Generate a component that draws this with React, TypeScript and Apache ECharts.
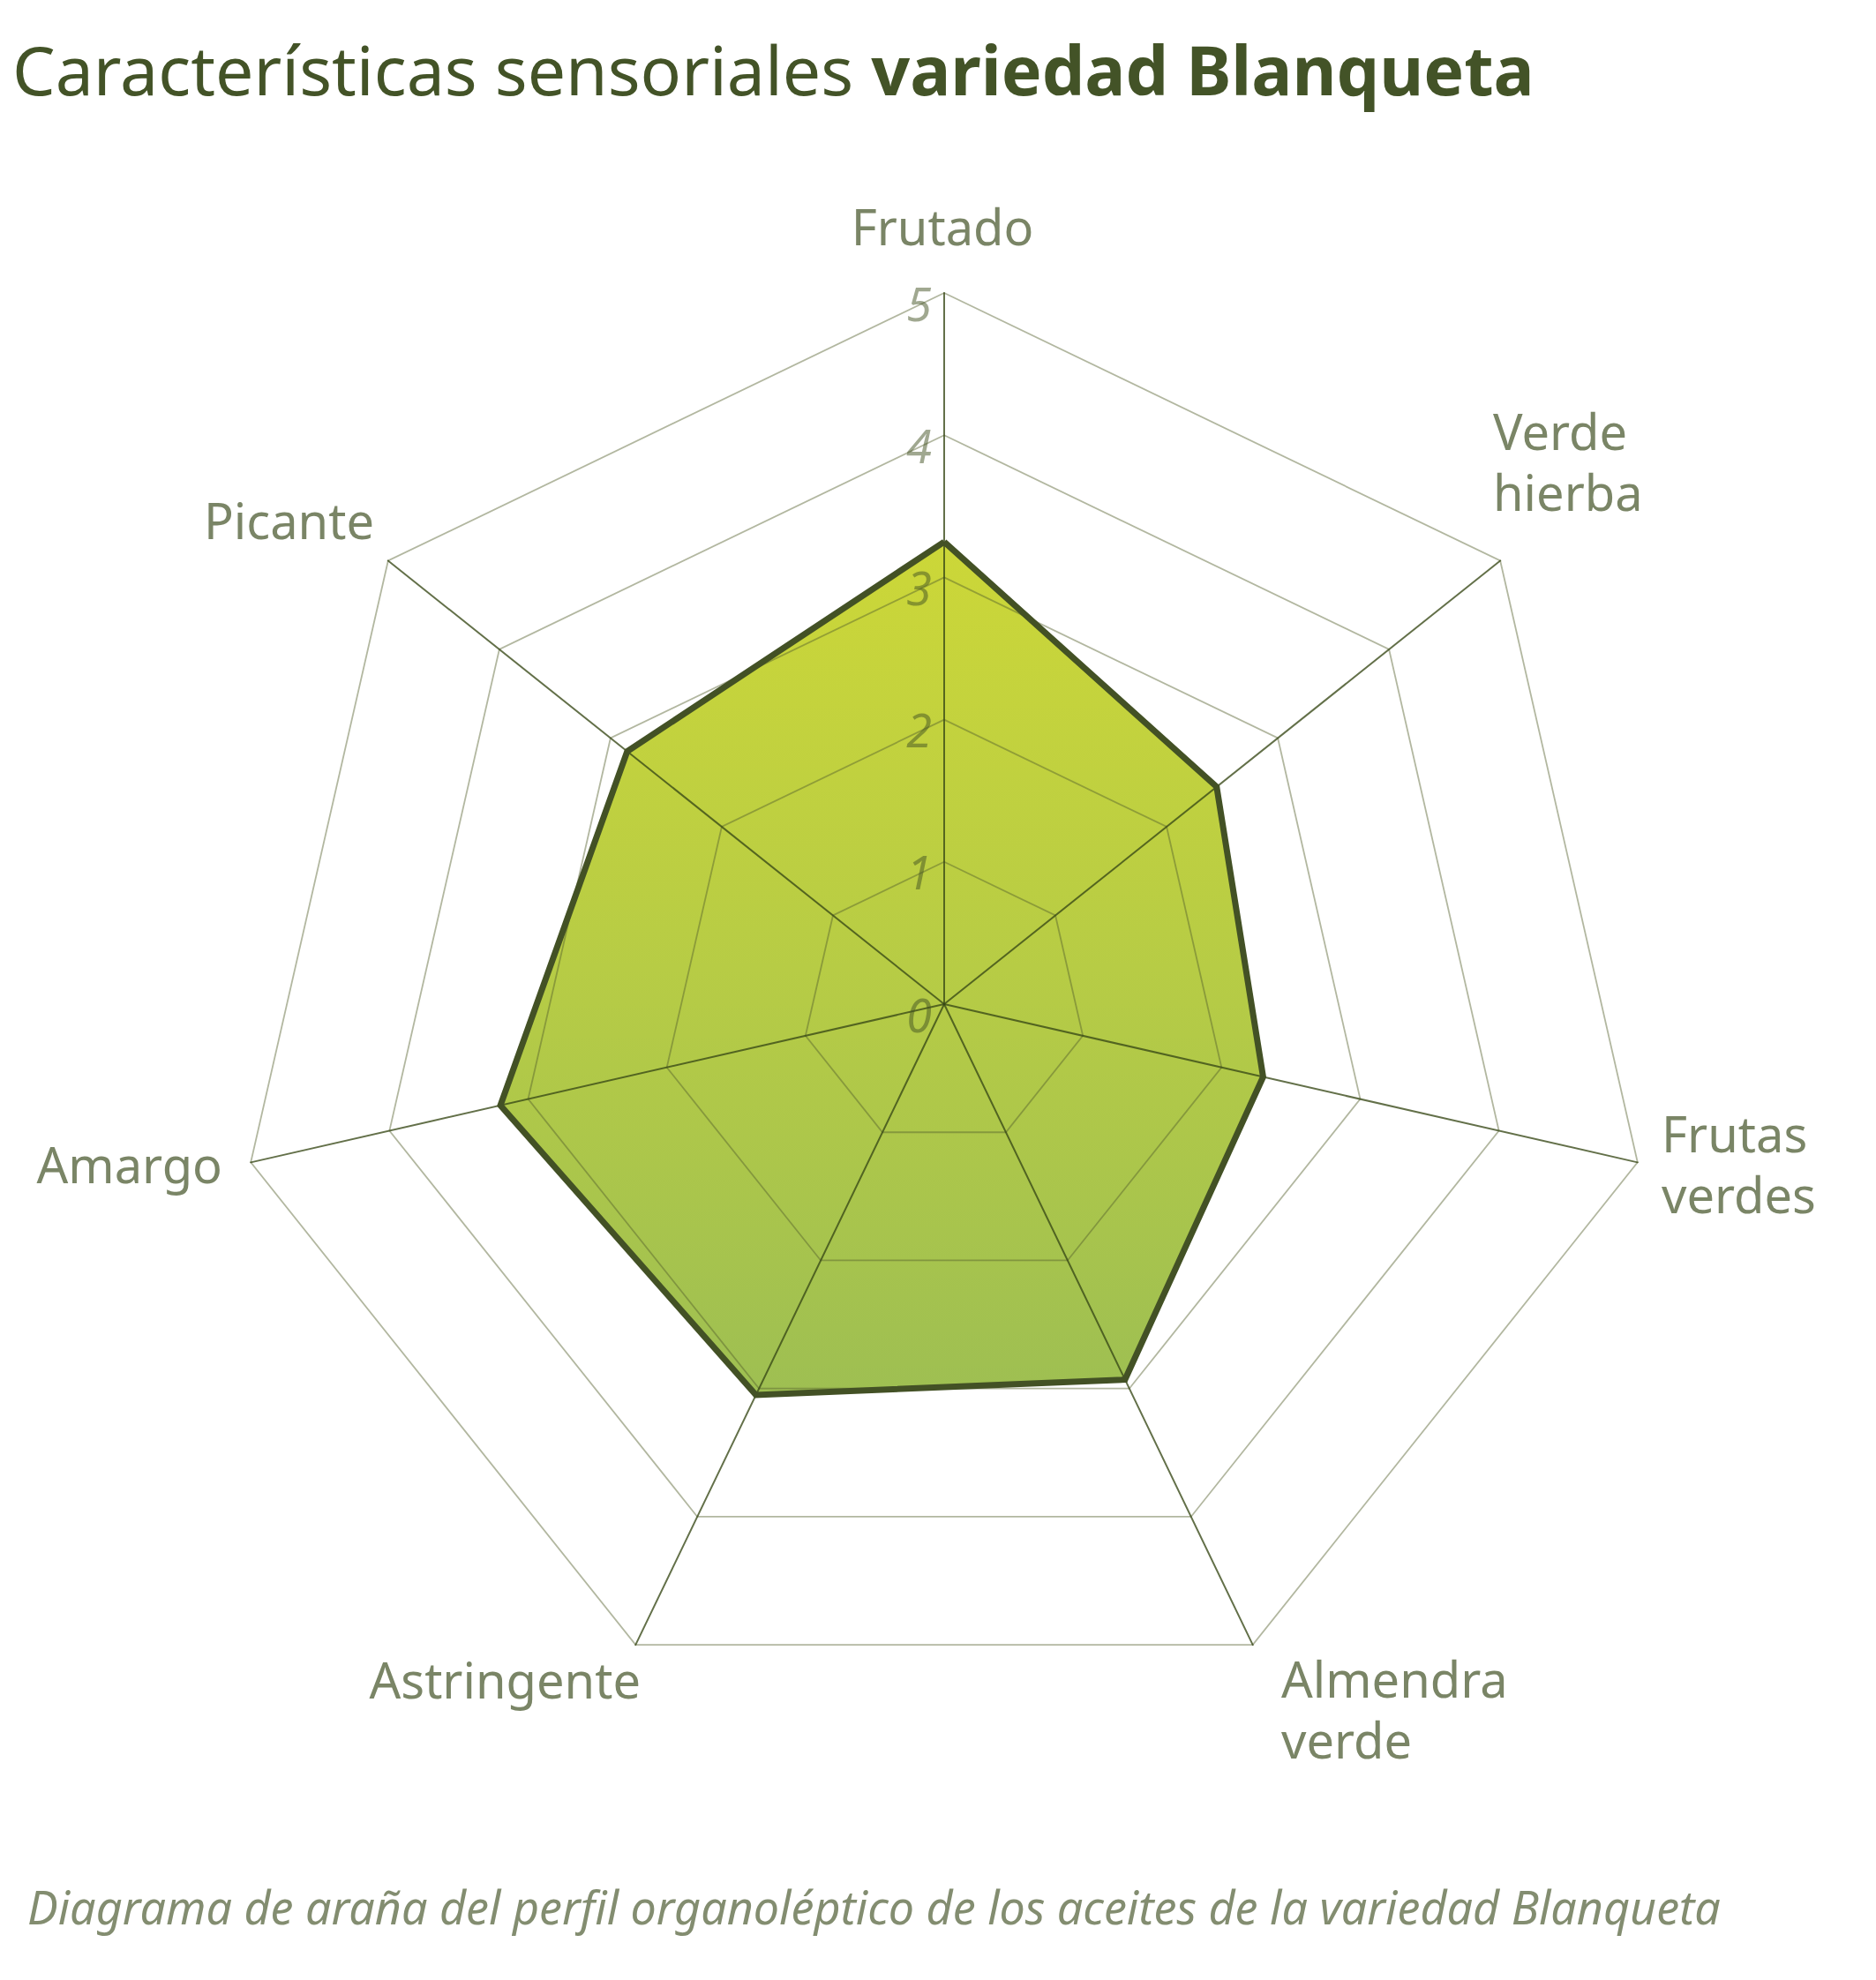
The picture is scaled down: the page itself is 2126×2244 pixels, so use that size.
import React, { useEffect, useRef } from "react";
import * as echarts from "echarts";

// Indicators in ECharts order (counter-clockwise from the top)
const CATEGORIES = [
  "Frutado",
  "Picante",
  "Amargo",
  "Astringente",
  "Almendra verde",
  "Frutas verdes",
  "Verde hierba",
];
const VALUES = [3.25, 2.85, 3.2, 3.05, 2.93, 2.3, 2.45];
const TICKS = [0, 1, 2, 3, 4, 5];
const MAX_VALUE = 5;

const TITLE_REGULAR = "Características sensoriales ";
const TITLE_BOLD = "variedad Blanqueta";
const CAPTION =
  "Diagrama de araña del perfil organoléptico de los aceites de la variedad Blanqueta";

// Layout (div coordinates)
const W = 2110;
const H = 2228;
const CX = 1062;
const CY = 1130;
const RADIUS = 806;

const LABEL_LAYOUT: Record<string, { text: string; x: number; y: number; align: string }> = {
  Frutado: { text: "Frutado", x: 1060, y: 248, align: "center" },
  "Verde hierba": { text: "Verde\nhierba", x: 1684, y: 514, align: "left" },
  "Frutas verdes": { text: "Frutas\nverdes", x: 1875, y: 1310, align: "left" },
  "Almendra verde": { text: "Almendra\nverde", x: 1444, y: 1928, align: "left" },
  Astringente: { text: "Astringente", x: 718, y: 1895, align: "right" },
  Amargo: { text: "Amargo", x: 244, y: 1311, align: "right" },
  Picante: { text: "Picante", x: 416, y: 581, align: "right" },
};

const FONT = '"Noto Sans", "DejaVu Sans", sans-serif';
const TITLE_COLOR = "#435327";
const LABEL_COLOR = "#7a8566";

export default function App() {
  const ref = useRef<HTMLDivElement>(null);

  useEffect(() => {
    if (!ref.current) return;
    const chart = echarts.init(ref.current, null, { renderer: "svg" });

    const graphics: any[] = [];

    // Title
    graphics.push({
      type: "text",
      x: 6,
      y: 70,
      z: 10,
      style: {
        text: `{r|${TITLE_REGULAR}}{b|${TITLE_BOLD}}`,
        align: "left",
        verticalAlign: "middle",
        rich: {
          r: { fontFamily: FONT, fontSize: 77, fontWeight: "normal", fill: TITLE_COLOR },
          b: { fontFamily: FONT, fontSize: 77, fontWeight: "bold", fill: TITLE_COLOR },
        },
      },
    });

    // Axis names
    CATEGORIES.forEach((c) => {
      const l = LABEL_LAYOUT[c];
      graphics.push({
        type: "text",
        x: l.x,
        y: l.y,
        z: 10,
        style: {
          text: l.text,
          align: l.align,
          verticalAlign: "middle",
          fontFamily: FONT,
          fontSize: 56,
          lineHeight: 69,
          fill: LABEL_COLOR,
        },
      });
    });

    // Tick labels along the first (top) axis
    TICKS.forEach((t) => {
      graphics.push({
        type: "text",
        x: CX - 14,
        y: CY - (t / MAX_VALUE) * RADIUS + 11,
        z: 10,
        style: {
          text: String(t),
          align: "right",
          verticalAlign: "middle",
          fontFamily: FONT,
          fontStyle: "italic",
          fontWeight: "normal",
          fontSize: 52,
          fill: "rgba(66,82,34,0.5)",
        },
      });
    });

    // Caption
    graphics.push({
      type: "text",
      x: 23,
      y: 2152,
      z: 10,
      style: {
        text: CAPTION,
        align: "left",
        verticalAlign: "middle",
        fontFamily: FONT,
        fontStyle: "italic",
        fontWeight: "normal",
        fontSize: 52,
        fill: "#838d70",
      },
    });

    const data = [{ value: VALUES, name: "Blanqueta" }];

    chart.setOption({
      animation: false,
      backgroundColor: "#ffffff",
      radar: {
        z: 5,
        center: [CX, CY],
        radius: RADIUS,
        startAngle: 90,
        shape: "polygon",
        splitNumber: TICKS.length - 1,
        indicator: CATEGORIES.map((name) => ({ name, min: 0, max: MAX_VALUE })),
        axisName: { show: false },
        axisTick: { show: false },
        axisLabel: { show: false },
        splitArea: { show: false },
        splitLine: {
          lineStyle: { color: "rgba(85,95,45,0.45)", width: 1.8 },
        },
        axisLine: {
          lineStyle: { color: "rgba(55,72,22,0.78)", width: 2 },
        },
      },
      series: [
        {
          type: "radar",
          z: 2,
          symbol: "none",
          lineStyle: { width: 0, opacity: 0 },
          areaStyle: {
            opacity: 1,
            color: new echarts.graphic.LinearGradient(0, 0, 0, 1, [
              { offset: 0, color: "#ccd738" },
              { offset: 0.5, color: "#b7cc45" },
              { offset: 1, color: "#9ebf52" },
            ]),
          },
          data,
        },
        {
          type: "radar",
          z: 8,
          symbol: "none",
          lineStyle: { color: "#435125", width: 7, join: "miter" },
          areaStyle: { opacity: 0 },
          data,
        },
      ],
      graphic: graphics,
    });

    return () => chart.dispose();
  }, []);

  return <div ref={ref} style={{ width: W, height: H }} />;
}
